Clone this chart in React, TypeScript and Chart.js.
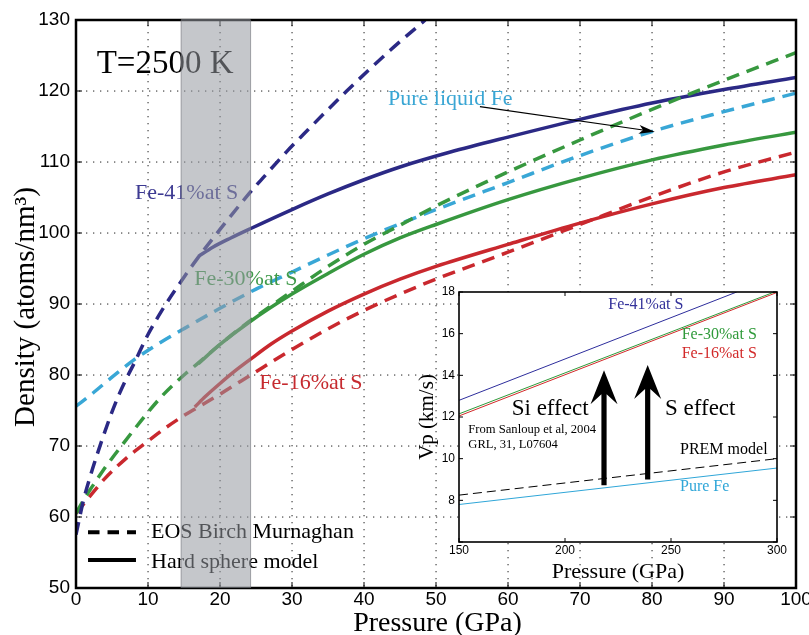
import { useEffect, useRef } from "react";
import { Chart, registerables } from "chart.js";
Chart.register(...registerables);

// ---------------- main chart data ----------------
const xTicks = [0, 10, 20, 30, 40, 50, 60, 70, 80, 90, 100];
const yTicks = [50, 60, 70, 80, 90, 100, 110, 120, 130];
const bandRange = [14.6, 24.25];

// Fe-41%at S
const p41Eos = [0, 1, 2, 3, 4, 5, 6, 7, 8, 10, 12, 14, 17, 20, 24, 26, 29.3, 31.6, 37.6, 43.6, 48.5];
const d41Eos = [57.5, 62.2, 65.8, 69, 72, 74.8, 77.3, 79.5, 81.5, 85.7, 89.2, 92.3, 96.6, 100.5, 105.5, 107.8, 111.5, 113.9, 120, 125.7, 130];
const p41Hs = [17, 19, 21.5, 24.2, 30, 35, 40, 45, 52, 60, 70, 80, 90, 100];
const d41Hs = [96.7, 98, 99.3, 100.6, 103.3, 105.5, 107.5, 109.3, 111.4, 113.5, 116, 118.3, 120.2, 121.9];
// Fe-30%at S
const p30Eos = [0, 1, 2, 3, 4, 6, 9, 12, 15, 17, 20, 24, 30, 35, 40, 45, 50, 60, 70, 80, 90, 100];
const d30Eos = [60.5, 62.3, 63.9, 65.4, 66.9, 69.6, 73.5, 77.1, 80, 81.7, 84.3, 87.5, 91.8, 95.3, 98.4, 101.1, 103.8, 108.6, 113.1, 117.4, 121.5, 125.4];
const p30Hs = [17, 20, 24, 30, 35, 40, 45, 50, 60, 70, 80, 90, 100];
const d30Hs = [81.6, 84.3, 87.4, 91.4, 94.3, 97, 99.3, 101.2, 104.7, 107.7, 110.3, 112.4, 114.2];
// Fe-16%at S
const p16Eos = [0, 2, 4, 7, 10, 12.5, 15, 17, 20, 23, 26, 30, 35, 40, 45, 50, 60, 70, 80, 90, 100];
const d16Eos = [60.5, 63, 65.4, 68.3, 70.7, 72.6, 74.3, 75.5, 77.3, 79.2, 81.1, 83.6, 86.5, 89.1, 91.4, 93.5, 97.3, 101.2, 105.1, 108.6, 111.4];
const p16Hs = [16.5, 18, 20, 22, 24.2, 27, 30, 35, 40, 45, 50, 60, 70, 80, 90, 100];
const d16Hs = [75.5, 77, 78.8, 80.5, 82.2, 84.3, 86.2, 89, 91.4, 93.5, 95.3, 98.4, 101.4, 104.1, 106.4, 108.2];
// Pure liquid Fe
const pFeEos = [0, 2.4, 5, 8, 11.6, 14.8, 20, 25, 30, 35, 40, 45, 50, 60, 70, 80, 90, 100];
const dFeEos = [75.6, 77.5, 79.7, 82.1, 84.5, 86.4, 89.4, 92.1, 94.5, 96.9, 99.2, 101.3, 103.3, 107.1, 110.9, 114.3, 117.1, 119.7];

// ---------------- inset data ----------------
const insetXTicks = [150, 200, 250, 300];
const insetYTicks = [6, 8, 10, 12, 14, 16, 18];
const insetP41 = [150, 281];
const insetV41 = [12.8, 18.0];
const insetP30 = [150, 300];
const insetV30 = [12.15, 18.05];
const insetP16 = [150, 300];
const insetV16 = [12.05, 17.98];
const insetPPrem = [150, 300];
const insetVPrem = [8.25, 10.0];
const insetPFe = [150, 300];
const insetVFe = [7.8, 9.55];
// arrows: [pressure, bottom, tip]
const siArrow = [218.4, 8.72, 14.25];
const sArrow = [239, 9.0, 14.5];

const SERIF = '"Liberation Serif", "DejaVu Serif", serif';
const SANS = '"Liberation Sans", Arial, sans-serif';

const BLUE = "#2b2985";
const GREEN = "#37983f";
const RED = "#c9282e";
const CYAN = "#39a7d6";

const toPts = (xs: number[], ys: number[]) => xs.map((x, i) => ({ x, y: ys[i] }));

function lineDs(label: string, xs: number[], ys: number[], color: string, dashed: boolean, width = 3.5) {
  return {
    label,
    data: toPts(xs, ys),
    borderColor: color,
    backgroundColor: color,
    borderWidth: width,
    borderDash: dashed ? [13, 8] : [],
    pointRadius: 0,
    fill: false,
    cubicInterpolationMode: "monotone" as const,
    borderCapStyle: "butt" as const,
  };
}

function fillText(ctx: CanvasRenderingContext2D, s: string, x: number, y: number, font: string, color: string, align: CanvasTextAlign = "left") {
  ctx.font = font;
  ctx.fillStyle = color;
  ctx.textAlign = align;
  ctx.textBaseline = "alphabetic";
  ctx.fillText(s, x, y);
}

function seg(ctx: CanvasRenderingContext2D, x0: number, y0: number, x1: number, y1: number) {
  ctx.beginPath();
  ctx.moveTo(x0, y0);
  ctx.lineTo(x1, y1);
  ctx.stroke();
}

function drawDottedGrid(chart: any) {
  const { ctx, chartArea: a } = chart;
  const xs = chart.scales.x;
  const ys = chart.scales.y;
  ctx.save();
  ctx.fillStyle = "#555";
  // dotted grid drawn as small squares every 7 px
  for (const v of xTicks.slice(1, -1)) {
    const px = Math.round(xs.getPixelForValue(v));
    for (let y = a.bottom - 3; y > a.top + 1; y -= 7) ctx.fillRect(px - 0.6, Math.round(y), 1.3, 1.3);
  }
  for (const v of yTicks.slice(1, -1)) {
    const py = Math.round(ys.getPixelForValue(v));
    for (let x = a.left + 3; x < a.right - 1; x += 7) ctx.fillRect(Math.round(x), py - 0.6, 1.3, 1.3);
  }
  ctx.restore();
}

const mainPlugin = {
  id: "mainDecor",
  beforeDatasetsDraw(chart: any) {
    drawDottedGrid(chart);
  },
  afterDraw(chart: any) {
    const { ctx, chartArea: a } = chart;
    const xs = chart.scales.x;
    const ys = chart.scales.y;
    const X = (v: number) => xs.getPixelForValue(v);
    const Y = (v: number) => ys.getPixelForValue(v);
    ctx.save();
    // inward ticks
    ctx.strokeStyle = "#000";
    ctx.lineWidth = 1;
    ctx.setLineDash([]);
    for (const v of xTicks) {
      const px = X(v);
      seg(ctx, px, a.bottom, px, a.bottom - 6);
      seg(ctx, px, a.top, px, a.top + 6);
    }
    for (const v of yTicks) {
      const py = Y(v);
      seg(ctx, a.left, py, a.left + 6, py);
      seg(ctx, a.right, py, a.right - 6, py);
    }
    // box
    ctx.lineWidth = 2.5;
    ctx.strokeRect(a.left, a.top, a.right - a.left, a.bottom - a.top);

    // annotations
    fillText(ctx, "T=2500 K", X(2.875), Y(122.54), `33px ${SERIF}`, "#000");
    fillText(ctx, "Pure liquid Fe", X(43.33), Y(118.03), `22px ${SERIF}`, "#3aa6d4");
    fillText(ctx, "Fe-41%at S", X(8.2), Y(104.75), `22px ${SERIF}`, "#3d3a92");
    fillText(ctx, "Fe-30%at S", X(16.43), Y(92.68), `22px ${SERIF}`, "#3f9a4a");
    fillText(ctx, "Fe-16%at S", X(25.46), Y(77.99), `22px ${SERIF}`, "#c62a2f");

    // arrow to pure Fe
    const ax0 = X(56.1), ay0 = Y(117.8), ax1 = X(80.4), ay1 = Y(114.27);
    const ang = Math.atan2(ay1 - ay0, ax1 - ax0);
    const hl = 16, hw = 4.5;
    const bx = ax1 - hl * Math.cos(ang), by = ay1 - hl * Math.sin(ang);
    ctx.strokeStyle = "#000";
    ctx.lineWidth = 1.2;
    seg(ctx, ax0, ay0, bx + 4 * Math.cos(ang), by + 4 * Math.sin(ang));
    ctx.fillStyle = "#000";
    ctx.beginPath();
    ctx.moveTo(ax1, ay1);
    ctx.lineTo(bx - hw * Math.sin(ang), by + hw * Math.cos(ang));
    ctx.lineTo(bx + 4 * Math.cos(ang), by + 4 * Math.sin(ang));
    ctx.lineTo(bx + hw * Math.sin(ang), by - hw * Math.cos(ang));
    ctx.closePath();
    ctx.fill();

    // legend
    ctx.strokeStyle = "#000";
    ctx.lineWidth = 4;
    ctx.setLineDash([11.5, 8]);
    seg(ctx, X(1.67), Y(57.85), X(8.33), Y(57.85));
    ctx.setLineDash([]);
    seg(ctx, X(1.67), Y(53.94), X(8.33), Y(53.94));
    fillText(ctx, "EOS Birch Murnaghan", X(10.42), Y(57.0), `22px ${SERIF}`, "#000");
    fillText(ctx, "Hard sphere model", X(10.42), Y(52.77), `22px ${SERIF}`, "#000");

    // translucent band over everything
    const b0 = X(bandRange[0]), b1 = X(bandRange[1]);
    ctx.fillStyle = "rgba(150,153,160,0.55)";
    ctx.fillRect(b0, a.top - 1, b1 - b0, a.bottom - a.top + 1);
    ctx.strokeStyle = "rgba(110,112,118,0.6)";
    ctx.lineWidth = 1;
    seg(ctx, b0, a.top, b0, a.bottom);
    seg(ctx, b1, a.top, b1, a.bottom);

    // axis titles
    fillText(ctx, "Pressure (GPa)", (a.left + a.right) / 2 + 1.5, 631, `28px ${SERIF}`, "#000", "center");
    ctx.save();
    ctx.translate(33.5, (a.top + a.bottom) / 2 + 3);
    ctx.rotate(-Math.PI / 2);
    fillText(ctx, "Density (atoms/nm³)", 0, 0, `29px ${SERIF}`, "#000", "center");
    ctx.restore();
    ctx.restore();
  },
};

function drawBigArrow(ctx: CanvasRenderingContext2D, x: number, yBottom: number, yTip: number) {
  const sw = 2.6, hw = 13.5, hl = 34, notch = 24;
  ctx.beginPath();
  ctx.moveTo(x, yTip);
  ctx.lineTo(x + hw, yTip + hl);
  ctx.lineTo(x + sw, yTip + notch);
  ctx.lineTo(x + sw, yBottom);
  ctx.lineTo(x - sw, yBottom);
  ctx.lineTo(x - sw, yTip + notch);
  ctx.lineTo(x - hw, yTip + hl);
  ctx.closePath();
  ctx.fillStyle = "#000";
  ctx.fill();
}

const insetPlugin = {
  id: "insetDecor",
  beforeDraw(chart: any) {
    const { ctx, chartArea: a } = chart;
    ctx.save();
    ctx.fillStyle = "#fff";
    ctx.fillRect(a.left, a.top, a.right - a.left, a.bottom - a.top);
    ctx.restore();
  },
  afterDraw(chart: any) {
    const { ctx, chartArea: a } = chart;
    const xs = chart.scales.x;
    const ys = chart.scales.y;
    const X = (v: number) => xs.getPixelForValue(v);
    const Y = (v: number) => ys.getPixelForValue(v);
    ctx.save();
    ctx.strokeStyle = "#000";
    ctx.lineWidth = 1;
    for (const v of insetXTicks) {
      const px = X(v);
      seg(ctx, px, a.bottom, px, a.bottom - 4);
      seg(ctx, px, a.top, px, a.top + 4);
    }
    for (const v of insetYTicks) {
      const py = Y(v);
      seg(ctx, a.left, py, a.left + 4, py);
      seg(ctx, a.right, py, a.right - 4, py);
    }
    ctx.lineWidth = 1.6;
    ctx.strokeRect(a.left, a.top, a.right - a.left, a.bottom - a.top);

    drawBigArrow(ctx, X(siArrow[0]), Y(siArrow[1]), Y(siArrow[2]));
    drawBigArrow(ctx, X(sArrow[0]), Y(sArrow[1]), Y(sArrow[2]));

    fillText(ctx, "Fe-41%at S", X(220.4), Y(17.17), `16px ${SERIF}`, "#33319a");
    fillText(ctx, "Fe-30%at S", X(255.05), Y(15.75), `16px ${SERIF}`, "#2f9a3a");
    fillText(ctx, "Fe-16%at S", X(255.05), Y(14.82), `16px ${SERIF}`, "#d22a2a");
    fillText(ctx, "Si effect", X(174.86), Y(12.1), `23px ${SERIF}`, "#000");
    fillText(ctx, "S effect", X(247.17), Y(12.1), `23px ${SERIF}`, "#000");
    fillText(ctx, "From Sanloup et al, 2004", X(154.4), Y(11.25), `12.6px ${SERIF}`, "#000");
    fillText(ctx, "GRL, 31, L07604", X(154.4), Y(10.53), `12.6px ${SERIF}`, "#000");
    fillText(ctx, "PREM model", X(254.25), Y(10.22), `16px ${SERIF}`, "#000");
    fillText(ctx, "Pure Fe", X(254.25), Y(8.46), `16px ${SERIF}`, "#2fa6d8");

    fillText(ctx, "Pressure (GPa)", (a.left + a.right) / 2, 292.7, `22px ${SERIF}`, "#000", "center");
    ctx.save();
    ctx.translate(18, (a.top + a.bottom) / 2);
    ctx.rotate(-Math.PI / 2);
    fillText(ctx, "Vp (km/s)", 0, 0, `21px ${SERIF}`, "#000", "center");
    ctx.restore();
    ctx.restore();
  },
};

function mainConfig(): any {
  return {
    type: "line",
    data: {
      datasets: [
        lineDs("Fe-41 EOS", p41Eos, d41Eos, BLUE, true),
        lineDs("Fe-30 EOS", p30Eos, d30Eos, GREEN, true),
        lineDs("Fe-16 EOS", p16Eos, d16Eos, RED, true),
        lineDs("Pure Fe EOS", pFeEos, dFeEos, CYAN, true),
        lineDs("Fe-41 HS", p41Hs, d41Hs, BLUE, false),
        lineDs("Fe-30 HS", p30Hs, d30Hs, GREEN, false),
        lineDs("Fe-16 HS", p16Hs, d16Hs, RED, false),
      ],
    },
    options: {
      animation: false,
      responsive: false,
      maintainAspectRatio: false,
      devicePixelRatio: 1,
      layout: { padding: { top: 20, right: 13, left: 0, bottom: 0 } },
      plugins: { legend: { display: false }, tooltip: { enabled: false } },
      scales: {
        x: {
          type: "linear",
          min: 0,
          max: 100,
          afterBuildTicks: (s: any) => {
            s.ticks = xTicks.map((v) => ({ value: v }));
          },
          ticks: { font: { family: SANS, size: 19 }, color: "#000", padding: 0, maxRotation: 0, autoSkip: false },
          grid: { display: false, drawTicks: false },
          border: { display: false },
          afterFit: (s: any) => {
            s.height = 47;
            s.paddingLeft = 0;
            s.paddingRight = 0;
          },
        },
        y: {
          type: "linear",
          min: 50,
          max: 130,
          afterBuildTicks: (s: any) => {
            s.ticks = yTicks.map((v) => ({ value: v }));
          },
          ticks: { font: { family: SANS, size: 19 }, color: "#000", padding: 6, autoSkip: false },
          grid: { display: false, drawTicks: false },
          border: { display: false },
          afterFit: (s: any) => {
            s.width = 76;
            s.paddingTop = 0;
            s.paddingBottom = 0;
          },
        },
      },
    },
    plugins: [mainPlugin],
  };
}

function insetConfig(): any {
  const thin = (label: string, xs: number[], ys: number[], color: string, dash: number[] = []) => ({
    label,
    data: toPts(xs, ys),
    borderColor: color,
    borderWidth: 1,
    borderDash: dash,
    pointRadius: 0,
    fill: false,
  });
  return {
    type: "line",
    data: {
      datasets: [
        thin("Fe-41", insetP41, insetV41, "#2d2d9c"),
        thin("Fe-30", insetP30, insetV30, "#2f9a3a"),
        thin("Fe-16", insetP16, insetV16, "#d22a2a"),
        thin("PREM", insetPPrem, insetVPrem, "#000", [9, 5]),
        thin("Pure Fe", insetPFe, insetVFe, "#2fa6d8"),
      ],
    },
    options: {
      animation: false,
      responsive: false,
      maintainAspectRatio: false,
      devicePixelRatio: 1,
      layout: { padding: { top: 7, right: 23, left: 0, bottom: 0 } },
      plugins: { legend: { display: false }, tooltip: { enabled: false } },
      scales: {
        x: {
          type: "linear",
          min: 150,
          max: 300,
          afterBuildTicks: (s: any) => {
            s.ticks = insetXTicks.map((v) => ({ value: v }));
          },
          ticks: { font: { family: SANS, size: 12 }, color: "#000", padding: 1, maxRotation: 0, autoSkip: false },
          grid: { display: false, drawTicks: false },
          border: { display: false },
          afterFit: (s: any) => {
            s.height = 48;
            s.paddingLeft = 0;
            s.paddingRight = 0;
          },
        },
        y: {
          type: "linear",
          min: 6,
          max: 18,
          afterBuildTicks: (s: any) => {
            s.ticks = insetYTicks.map((v) => ({ value: v }));
          },
          ticks: {
            font: { family: SANS, size: 12 },
            color: "#000",
            padding: 4,
            autoSkip: false,
            callback: (v: any) => (v === 6 ? "" : String(v)),
          },
          grid: { display: false, drawTicks: false },
          border: { display: false },
          afterFit: (s: any) => {
            s.width = 44;
            s.paddingTop = 0;
            s.paddingBottom = 0;
          },
        },
      },
    },
    plugins: [insetPlugin],
  };
}

export default function App() {
  const mainRef = useRef<HTMLCanvasElement>(null);
  const insetRef = useRef<HTMLCanvasElement>(null);
  useEffect(() => {
    const c1 = new Chart(mainRef.current!, mainConfig());
    const c2 = new Chart(insetRef.current!, insetConfig());
    return () => {
      c1.destroy();
      c2.destroy();
    };
  }, []);
  return (
    <div style={{ position: "absolute", left: 0, top: 0, width: 809, height: 635, background: "#fff" }}>
      <canvas ref={mainRef} width={809} height={635} style={{ position: "absolute", left: 0, top: 0 }} />
      <canvas ref={insetRef} width={385} height={305} style={{ position: "absolute", left: 415, top: 285 }} />
    </div>
  );
}
